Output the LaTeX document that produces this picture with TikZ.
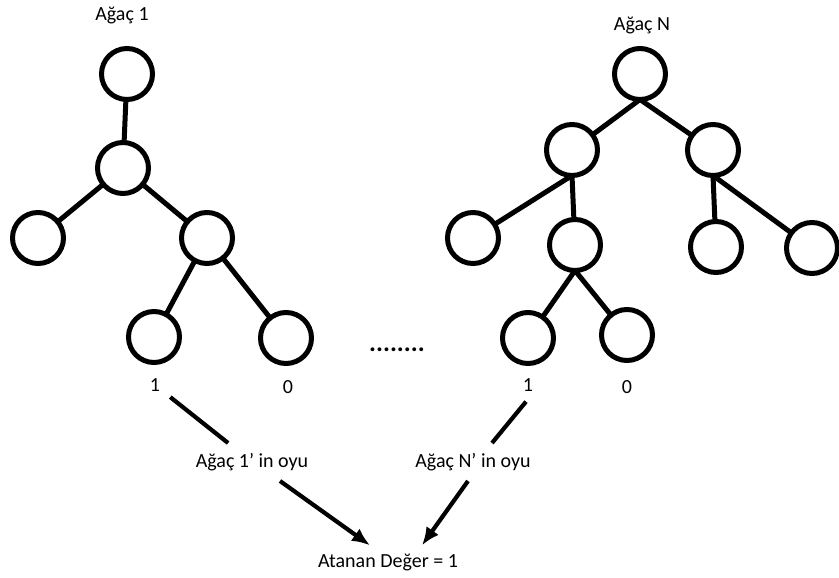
\documentclass[tikz,border=0pt]{standalone}
\usepackage{fontspec}
\setmainfont{Carlito}
\usetikzlibrary{arrows.meta}
\begin{document}
\begin{tikzpicture}[x=1pt,y=-1pt,
  vertex/.style={circle,draw,line width=5pt,minimum size=51pt,inner sep=0pt,outer sep=0pt},
  edge/.style={line width=5pt},
  txt/.style={font=\fontsize{20}{24}\selectfont,inner sep=0pt},
  vote/.style={font=\fontsize{20}{24}\selectfont,inner sep=10pt},
  leafval/.style={font=\fontsize{20}{24}\selectfont,inner sep=10pt},
  votearrow/.style={line width=4.2pt,-{Latex[length=18pt,width=15pt]}},
  voteline/.style={line width=4.2pt}]
\useasboundingbox (0,0) rectangle (839,578);

% first tree
\node[txt] (t1) at (122,15) {Ağaç 1};
\node[vertex] (r1) at (127,74) {};
\node[vertex] (c1) at (123,168) {};
\node[vertex] (l1) at (38,238) {};
\node[vertex] (c2) at (207,238) {};
\node[vertex] (g1) at (154,337) {};
\node[vertex] (g2) at (286,338) {};
\draw[edge] (r1) -- (c1);
\draw[edge] (c1) -- (l1);
\draw[edge] (c1) -- (c2);
\draw[edge] (c2) -- (g1);
\draw[edge] (c2) -- (g2);

% last tree
\node[txt] (tN) at (642,25) {Ağaç N};
\node[vertex] (rN) at (640,74) {};
\node[vertex] (a) at (572,150) {};
\node[vertex] (b) at (713,150) {};
\node[vertex] (lA) at (473,238) {};
\node[vertex] (lB) at (575,245) {};
\node[vertex] (lC) at (716,247) {};
\node[vertex] (lD) at (812,248) {};
\node[vertex] (gA) at (528,338) {};
\node[vertex] (gB) at (627,335) {};
\draw[edge] (rN.south) -- (a);
\draw[edge] (rN.south) -- (b);
\draw[edge] (a.south) -- (lA);
\draw[edge] (a.south) -- (lB);
\draw[edge] (b.south) -- (lC);
\draw[edge] (b.south) -- (lD);
\draw[edge] (lB.south) -- (gA);
\draw[edge] (lB.south) -- (gB);

% trees in between
\node[txt,font=\fontsize{26}{30}\selectfont\bfseries,anchor=base] (dots) at (397,351) {........};

% leaf outputs
\node[leafval] (o1) at (155,385) {1};
\node[leafval] (z1) at (288,387) {0};
\node[leafval] (oN) at (528,385) {1};
\node[leafval] (zN) at (627,387) {0};

% votes
\node[vote] (v1) at (252,462) {Ağaç 1’ in oyu};
\node[vote] (vN) at (473,462) {Ağaç N’ in oyu};
\node[txt,inner sep=8pt] (res) at (388,562) {Atanan Değer = 1};

\draw[voteline] (o1) -- (v1);
\draw[voteline] ([xshift=-2pt]oN.south) -- ([xshift=19pt]vN.north);
\draw[votearrow] ([xshift=28pt]v1.south) -- ([xshift=-18pt]res.north);
\draw[votearrow] ([xshift=-5pt]vN.south) -- ([xshift=34pt]res.north);
\end{tikzpicture}
\end{document}
